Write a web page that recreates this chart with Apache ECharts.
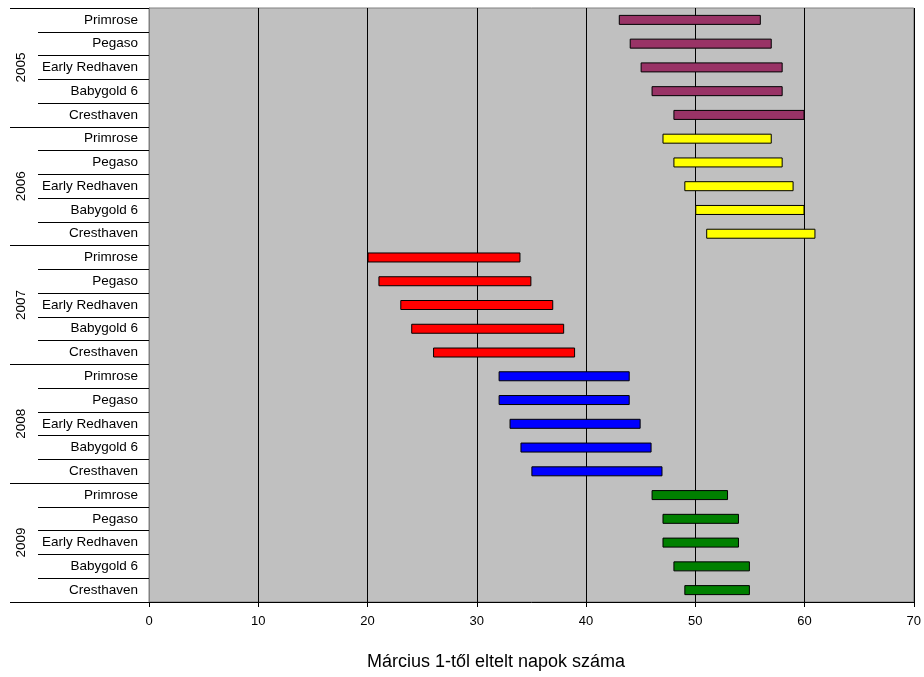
<!DOCTYPE html>
<html>
<head>
<meta charset="utf-8">
<script src="https://cdn.jsdelivr.net/npm/echarts@6/dist/echarts.min.js"></script>
<style>html,body{margin:0;padding:0;background:#fff}#c{width:924px;height:677px}</style>
</head>
<body>
<div id="c"></div>
<script>
const years = ['2005', '2006', '2007', '2008', '2009'];
const cultivars = ['Primrose', 'Pegaso', 'Early Redhaven', 'Babygold 6', 'Cresthaven'];
const start2005 = [43, 44, 45, 46, 48];
const end2005   = [56, 57, 58, 58, 60];
const start2006 = [47, 48, 49, 50, 51];
const end2006   = [57, 58, 59, 60, 61];
const start2007 = [20, 21, 23, 24, 26];
const end2007   = [34, 35, 37, 38, 39];
const start2008 = [32, 32, 33, 34, 35];
const end2008   = [44, 44, 45, 46, 47];
const start2009 = [46, 47, 47, 48, 49];
const end2009   = [53, 54, 54, 55, 55];
const xTicks = [0, 10, 20, 30, 40, 50, 60, 70];
const xTitle = 'Március 1-től eltelt napok száma';

const yearColors = ['#993366', '#ffff00', '#ff0000', '#0000ff', '#008000'];
const starts = [start2005, start2006, start2007, start2008, start2009];
const ends = [end2005, end2006, end2007, end2008, end2009];

const rowNames = [], rowKeys = [], baseData = [], durData = [];
years.forEach((y, yi) => {
  cultivars.forEach((c, ci) => {
    rowNames.push(c);
    rowKeys.push(y + '|' + c);
    baseData.push(starts[yi][ci]);
    durData.push({
      value: ends[yi][ci] - starts[yi][ci],
      itemStyle: { color: yearColors[yi] }
    });
  });
});

const FONT = '"Liberation Sans", Arial, sans-serif';
const chart = echarts.init(document.getElementById('c'));
chart.setOption({
  animation: false,
  grid: { left: 149, right: 10, top: 8, bottom: 75, show: true,
          backgroundColor: '#c0c0c0', borderColor: '#808080', borderWidth: 1 },
  xAxis: {
    type: 'value', min: xTicks[0], max: xTicks[xTicks.length - 1], interval: 10,
    axisLine: { show: true, lineStyle: { color: '#000', width: 1 } },
    axisTick: { show: true, length: 5, lineStyle: { color: '#000' } },
    splitLine: { show: true, lineStyle: { color: '#000', width: 1 } },
    axisLabel: { color: '#000', fontSize: 13, fontFamily: FONT, margin: 13 }
  },
  yAxis: [
    {
      type: 'category', inverse: true, data: rowKeys,
      axisLine: { show: true, lineStyle: { color: '#808080' } },
      axisTick: { show: true, length: 111, lineStyle: { color: '#000' } },
      axisLabel: { color: '#000', fontSize: 13.5, fontFamily: FONT, margin: 11,
                   formatter: (v, i) => rowNames[i] }
    },
    {
      type: 'category', inverse: true, data: years, position: 'left',
      axisLine: { show: false },
      axisTick: { show: true, length: 139, lineStyle: { color: '#000' } },
      axisLabel: { color: '#000', fontSize: 13.5, fontFamily: FONT, rotate: 90, margin: 121 }
    }
  ],
  series: [
    {
      type: 'bar', stack: 'g', yAxisIndex: 0, barWidth: 10, silent: true,
      itemStyle: { color: 'rgba(0,0,0,0)' }, data: baseData
    },
    {
      type: 'bar', stack: 'g', yAxisIndex: 0, barWidth: 10, silent: true,
      itemStyle: { borderColor: '#000', borderWidth: 1 }, data: durData
    }
  ],
  graphic: [{
    type: 'text', left: 500 - 133, top: 653,
    style: { text: xTitle, font: '18px ' + FONT, fill: '#000' }
  }]
});
</script>
</body>
</html>
